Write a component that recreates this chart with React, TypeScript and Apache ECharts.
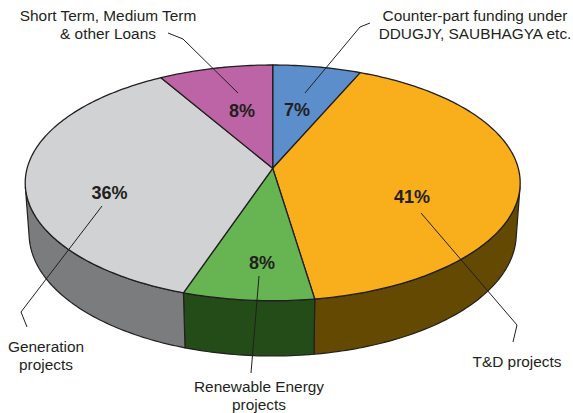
import React, { useEffect, useRef } from 'react';
import * as echarts from 'echarts';

// ---- data ----
const categories = [
  'Counter-part funding under\nDDUGJY, SAUBHAGYA etc.',
  'T&D projects',
  'Renewable Energy\nprojects',
  'Generation\nprojects',
  'Short Term, Medium Term\n& other Loans',
];
const shares = [6.5, 41.1, 7.6, 36.4, 8.4];

// ---- styles / layout ----
const topColors = ['#5B8ECB', '#F9AE1B', '#66B552', '#D1D2D4', '#BC64A5'];
const sideColors = ['#2E4A6E', '#634901', '#244C18', '#7B7C7E', '#6A3560'];
const labelRadius = [0.55, 0.6, 0.74, 0.68, 0.54];
const labelShift = [-0.6, 16, -2, -12, 0.9];
const namePos = [
  [475, 24],
  [517, 361],
  [259, 395],
  [46, 355],
  [108, 24],
];
const leaders = [
  [[370, 23], [360, 27], [305, 93]],
  [[421, 213], [517, 325], [513, 342]],
  [[259, 276], [251, 373]],
  [[102, 206], [21, 312], [27, 327]],
  [[168, 33], [183, 39], [238, 93]],
];

const INK = '#231F20';
const FONT = '"Liberation Sans", Arial, Helvetica, sans-serif';

// perspective projection of a flat cylinder
const CX = 272.7;
const CY = 168.3;
const F = 1751;
const DIST = 7.13;
const SA = 0.4726;
const CA = 0.8813;
const H = 0.2375;

function proj(X: number, Y: number, Z: number): number[] {
  const w = DIST - Y * CA - Z * SA;
  const v = -Y * SA + Z * CA;
  return [CX + (F * X) / w, CY - (F * v) / w];
}
function rim(deg: number, Z: number): number[] {
  const r = (deg * Math.PI) / 180;
  return proj(Math.sin(r), -Math.cos(r), Z);
}
const VIS0 = (Math.acos(-1 / (DIST * CA)) * 180) / Math.PI;
const VIS1 = 360 - VIS0;

function arc(a0: number, a1: number, Z: number): number[][] {
  const pts: number[][] = [];
  const n = Math.max(2, Math.ceil((a1 - a0) / 1));
  for (let k = 0; k <= n; k++) pts.push(rim(a0 + ((a1 - a0) * k) / n, Z));
  return pts;
}

export default function App() {
  const ref = useRef<HTMLDivElement>(null);
  useEffect(() => {
    if (!ref.current) return;
    const chart = echarts.init(ref.current, undefined, { renderer: 'svg' });
    const total = shares.reduce((a, b) => a + b, 0);
    const starts: number[] = [];
    const ends: number[] = [];
    let acc = 0;
    shares.forEach((v) => {
      starts.push((acc / total) * 360);
      acc += v;
      ends.push((acc / total) * 360);
    });

    const renderItem = (params: any, api: any) => {
      const i = params.dataIndex;
      const v = api.value(0);
      const a0 = starts[i];
      const a1 = ends[i];
      const children: any[] = [];
      const w0 = Math.max(a0, VIS0);
      const w1 = Math.min(a1, VIS1);
      if (w1 > w0) {
        const pts = arc(w0, w1, 0).concat(arc(w0, w1, -H).reverse());
        children.push({
          type: 'polygon',
          shape: { points: pts },
          style: { fill: sideColors[i], stroke: INK, lineWidth: 1.2, lineJoin: 'round' },
          z2: 1,
        });
      }
      const top = [proj(0, 0, 0)].concat(arc(a0, a1, 0));
      children.push({
        type: 'polygon',
        shape: { points: top },
        style: { fill: topColors[i], stroke: INK, lineWidth: 1.3, lineJoin: 'round' },
        z2: 5,
      });
      const mid = ((a0 + a1) / 2 + labelShift[i]) * Math.PI / 180;
      const lp = proj(labelRadius[i] * Math.sin(mid), -labelRadius[i] * Math.cos(mid), 0);
      children.push({
        type: 'text',
        x: lp[0],
        y: lp[1],
        z2: 20,
        style: {
          text: Math.round((v / total) * 100) + '%',
          fill: INK,
          fontSize: 18,
          fontWeight: 'bold',
          fontFamily: FONT,
          align: 'center',
          verticalAlign: 'middle',
        },
      });
      return { type: 'group', children };
    };

    const graphic: any[] = [];
    leaders.forEach((pts) => {
      graphic.push({
        type: 'polyline',
        z: 100,
        shape: { points: pts },
        style: { stroke: INK, lineWidth: 1, fill: null },
      });
    });
    categories.forEach((name, i) => {
      graphic.push({
        type: 'text',
        z: 100,
        x: namePos[i][0],
        y: namePos[i][1],
        style: {
          text: name,
          fill: INK,
          fontSize: 15.4,
          lineHeight: 18,
          fontFamily: FONT,
          align: 'center',
          verticalAlign: 'middle',
        },
      });
    });

    chart.setOption({
      animation: false,
      series: [
        {
          type: 'custom',
          coordinateSystem: 'none',
          silent: true,
          renderItem,
          data: shares,
        },
      ],
      graphic,
    });
    return () => chart.dispose();
  }, []);
  return (
    <div
      ref={ref}
      style={{ position: 'fixed', left: 0, top: 0, width: 573, height: 413, background: '#fff' }}
    />
  );
}
